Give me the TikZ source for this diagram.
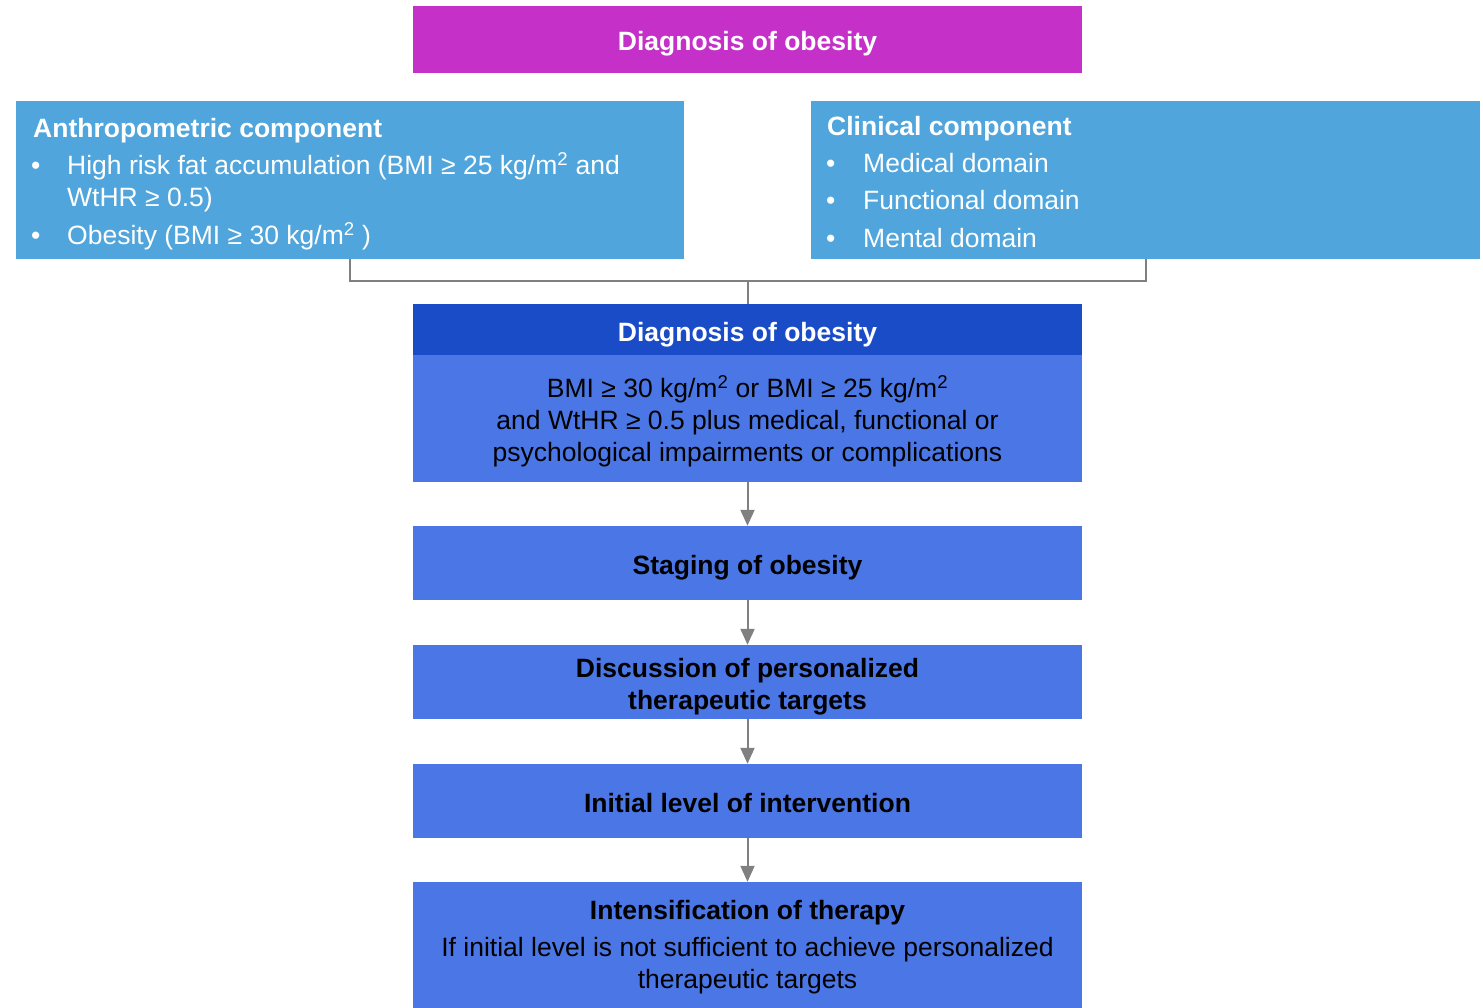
\documentclass[tikz,border=0pt]{standalone}
\usepackage{fontspec}
\setmainfont{Liberation Sans}
\usetikzlibrary{arrows.meta}
\definecolor{topmagenta}{RGB}{197,48,200}
\definecolor{compblue}{RGB}{79,165,220}
\definecolor{headblue}{RGB}{27,76,200}
\definecolor{stepblue}{RGB}{74,118,230}
\definecolor{linkgray}{RGB}{128,128,128}
\newcommand{\headfont}{\fontsize{26.5}{32}\selectfont\bfseries}
\newcommand{\bodyfont}{\fontsize{26.5}{32}\selectfont}
\newcommand{\sqm}{m\textsuperscript{2}}
% lower a line of text without changing its measured size
\newcommand{\down}[2]{\raisebox{-#1}[\height][\depth]{#2}}
\begin{document}
\begin{tikzpicture}[x=1pt,y=-1pt,
  panel/.style={rectangle, draw=none, inner sep=0pt, minimum width=669pt, align=center},
  stepbox/.style={panel, fill=stepblue, text=black},
  comp/.style={rectangle, draw=none, inner sep=0pt, fill=compblue, minimum height=158pt},
  complabel/.style={anchor=base west, inner sep=0pt, text=white},
  link/.style={draw=linkgray, line width=2pt},
  flow/.style={link, -{Triangle[length=16pt,width=14pt]}}]
\useasboundingbox (0,0) rectangle (1483,1008);

% top banner
\node[panel, fill=topmagenta, minimum height=67pt, text=white, font=\headfont] (top) at (747.5,39.5) {\down{4pt}{Diagnosis of obesity}};

% the two components
\node[comp, minimum width=668pt] (anthro) at (350,180) {};
\node[comp, minimum width=669pt] (clinical) at (1145.5,180) {};

\node[complabel, font=\headfont] (anthroT) at (33,138) {Anthropometric component};
\node[complabel, font=\bodyfont] (anthroB1) at (31,175) {•};
\node[complabel, font=\bodyfont] (anthroL1) at (67,175) {High risk fat accumulation (BMI ≥ 25 kg/\sqm\ and};
\node[complabel, font=\bodyfont] (anthroL1b) at (67,207) {WtHR ≥ 0.5)};
\node[complabel, font=\bodyfont] (anthroB2) at (31,245) {•};
\node[complabel, font=\bodyfont] (anthroL2) at (67,245) {Obesity (BMI ≥ 30 kg/\sqm\ )};

\node[complabel, font=\headfont] (clinT) at (827,136) {Clinical component};
\node[complabel, font=\bodyfont] (clinB1) at (826,173) {•};
\node[complabel, font=\bodyfont] (clinL1) at (863,173) {Medical domain};
\node[complabel, font=\bodyfont] (clinB2) at (826,210) {•};
\node[complabel, font=\bodyfont] (clinL2) at (863,210) {Functional domain};
\node[complabel, font=\bodyfont] (clinB3) at (826,248) {•};
\node[complabel, font=\bodyfont] (clinL3) at (863,248) {Mental domain};

% diagnosis block
\node[panel, fill=headblue, minimum height=51pt, text=white, font=\headfont] (diaghead) at (747.5,329.5) {\down{5pt}{Diagnosis of obesity}};
\node[stepbox, minimum height=127pt, font=\bodyfont] (diagbody) at (747.5,418.5)
  {\down{3pt}{BMI ≥ 30 kg/\sqm\ or BMI ≥ 25 kg/\sqm}\\\down{3pt}{and WtHR ≥ 0.5 plus medical, functional or}\\\down{3pt}{psychological impairments or complications}};

% treatment steps
\node[stepbox, minimum height=74pt, font=\headfont] (staging) at (747.5,563) {\down{5pt}{Staging of obesity}};
\node[stepbox, minimum height=74pt, font=\headfont] (targets) at (747.5,682) {\down{5pt}{Discussion of personalized}\\\down{5pt}{therapeutic targets}};
\node[stepbox, minimum height=74pt, font=\headfont] (initial) at (747.5,801) {\down{2pt}{Initial level of intervention}};
\node[stepbox, minimum height=126pt, font=\bodyfont] (intens) at (747.5,945)
  {\down{2pt}{\headfont Intensification of therapy}\\[4pt]\down{3pt}{If initial level is not sufficient to achieve personalized}\\\down{3pt}{therapeutic targets}};

% connectors
\coordinate (join) at (747.5,281);
\draw[link] (anthro.south) |- (join) -| (clinical.south);
\draw[link] (join) -- (diaghead.north);
\draw[flow] (diagbody.south) -- (staging.north);
\draw[flow] (staging.south) -- (targets.north);
\draw[flow] (targets.south) -- (initial.north);
\draw[flow] (initial.south) -- (intens.north);
\end{tikzpicture}
\end{document}
